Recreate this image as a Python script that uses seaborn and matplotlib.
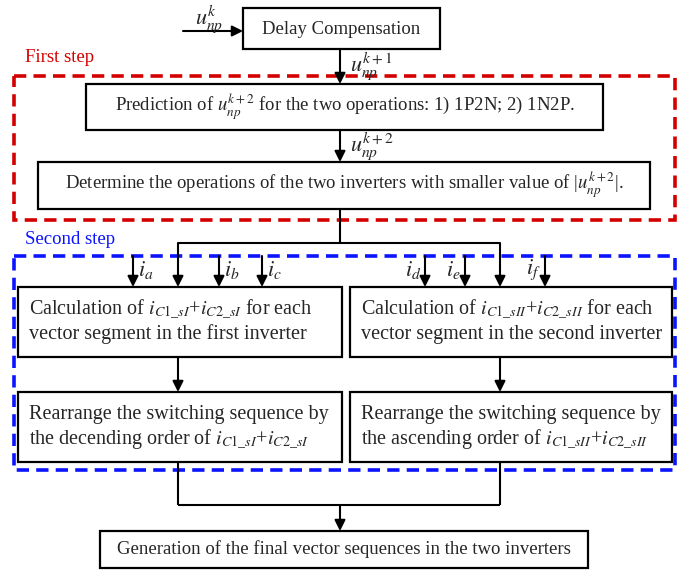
import matplotlib.pyplot as plt
import seaborn as sns
from matplotlib.patches import Rectangle

sns.set_theme(style="white")
plt.rcParams['font.family'] = ['Liberation Serif', 'DejaVu Serif']
plt.rcParams['mathtext.fontset'] = 'stix'

# texts of the flowchart
top_texts = [
    "Delay Compensation",
    r"Prediction of $u_{np}^{k+2}$ for the two operations: 1) 1P2N; 2) 1N2P.",
    r"Determine the operations of the two inverters with smaller value of |$u_{np}^{k+2}$|.",
]
signal_labels = [r"$u_{np}^{k}$", r"$u_{np}^{k+1}$", r"$u_{np}^{k+2}$"]
left_texts = [
    [r"Calculation of $i_{C1\_sI}$+$i_{C2\_sI}$ for each", "vector segment in the first inverter"],
    ["Rearrange the switching sequence by", r"the decending order of $i_{C1\_sI}$+$i_{C2\_sI}$"],
]
right_texts = [
    [r"Calculation of $i_{C1\_sII}$+$i_{C2\_sII}$ for each", "vector segment in the second inverter"],
    ["Rearrange the switching sequence by", r"the ascending order of $i_{C1\_sII}$+$i_{C2\_sII}$"],
]
current_labels = ["a", "b", "c", "d", "e", "f"]
step_labels = ["First step", "Second step"]
final_text = "Generation of the final vector sequences in the two inverters"

RED = "#d40000"
BLUE = "#0a14ff"
FS = 13.5

fig = plt.figure(figsize=(6.86, 5.70), dpi=100)
ax = fig.add_axes([0, 0, 1, 1])
ax.set_xlim(0, 686)
ax.set_ylim(570, 0)
ax.axis("off")


def box(x0, y0, x1, y1):
    ax.add_patch(Rectangle((x0, y0), x1 - x0, y1 - y0, fill=False, lw=1.6, ec="black"))


def arrow(x0, y0, x1, y1):
    ax.annotate("", xy=(x1, y1), xytext=(x0, y0),
                arrowprops=dict(arrowstyle="-|>", color="black", lw=1.5,
                                mutation_scale=16, shrinkA=0, shrinkB=0))


def line(xs, ys):
    ax.plot(xs, ys, color="black", lw=1.5, solid_capstyle="butt")


def dashed_rect(x0, y0, x1, y1, color):
    ax.add_patch(Rectangle((x0, y0), x1 - x0, y1 - y0, fill=False, lw=2.6, ec=color,
                           linestyle=(0, (3.4, 2.0))))


# step frames
dashed_rect(14, 76, 675, 220, RED)
dashed_rect(14, 256, 675, 470, BLUE)
ax.text(25, 58, step_labels[0], color=RED, fontsize=FS, va="center", ha="left")
ax.text(25, 239, step_labels[1], color=BLUE, fontsize=FS, va="center", ha="left")

# first part
box(243, 8, 440, 49)
ax.text(341, 29, top_texts[0], fontsize=FS, ha="center", va="center")
arrow(183, 31, 243, 31)
ax.text(195, 19, signal_labels[0], fontsize=16, ha="left", va="center")

arrow(340, 49, 340, 84)
ax.text(350, 66, signal_labels[1], fontsize=16, ha="left", va="center")

box(86, 84, 603, 130)
ax.text(345, 107, top_texts[1], fontsize=FS, ha="center", va="center")

arrow(340, 130, 340, 162)
ax.text(350, 146, signal_labels[2], fontsize=16, ha="left", va="center")

box(38, 162, 650, 209)
ax.text(344, 185, top_texts[2], fontsize=FS, ha="center", va="center")

# split
line([340, 340], [209, 243])
line([178, 500], [243, 243])
arrow(178, 243, 178, 287)
arrow(500, 243, 500, 287)

# current inputs
in_x = [133, 219, 262, 425, 465, 545]
for i, (xi, lab) in enumerate(zip(in_x, current_labels)):
    arrow(xi, 256, xi, 287)
    if i < 3:
        ax.text(xi + 5, 270, r"$i_{%s}$" % lab, fontsize=16, ha="left", va="center")
    else:
        ax.text(xi - 4, 270, r"$i_{%s}$" % lab, fontsize=16, ha="right", va="center")

# inverter columns
cols = [(18, 342, 178, left_texts), (350, 672, 500, right_texts)]
rows = [(287, 357), (392, 462)]
for x0, x1, xc, texts in cols:
    for (y0, y1), lines in zip(rows, texts):
        box(x0, y0, x1, y1)
        ym = (y0 + y1) / 2
        ax.text(x0 + 11, ym - 12, lines[0], fontsize=14.5, ha="left", va="center")
        ax.text(x0 + 11, ym + 12, lines[1], fontsize=14.5, ha="left", va="center")
    arrow(xc, 357, xc, 392)
    line([xc, xc], [462, 505])

# merge
line([178, 500], [505, 505])
arrow(340, 505, 340, 531)
box(100, 531, 588, 568)
ax.text(344, 549, final_text, fontsize=FS, ha="center", va="center")

fig.savefig("out.png", dpi=100, facecolor="white")
